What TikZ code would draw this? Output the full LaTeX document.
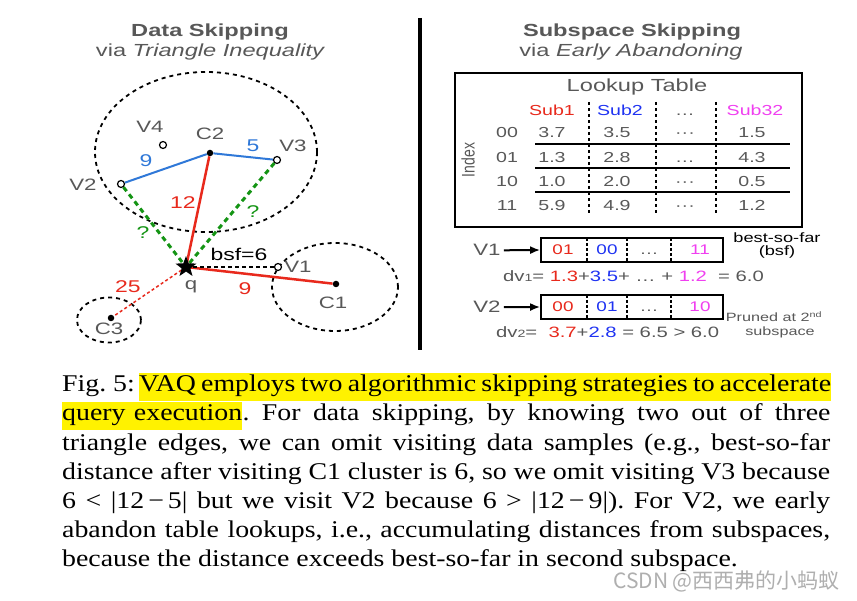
\documentclass[tikz,border=0pt]{standalone}
\usepackage{fontspec}
\setmainfont[FakeStretch=1.16]{Liberation Serif}
\newfontfamily\diagfont[FakeStretch=1.35]{Liberation Sans}
\newfontfamily\diagplain{Liberation Sans}
\newfontfamily\wmfont{Noto Sans CJK SC}
\usetikzlibrary{shapes.geometric}
\usetikzlibrary{arrows.meta}
\newcommand\fsz[1]{\fontsize{#1}{#1}\selectfont}
\frenchspacing
\definecolor{txtgray}{HTML}{585858}
\definecolor{lred}{HTML}{E8291C}
\definecolor{lblue}{HTML}{2F78D8}
\definecolor{tblue}{HTML}{1F33F2}
\definecolor{tpink}{HTML}{F03FF0}
\definecolor{lgreen}{HTML}{149414}
\definecolor{wmgray}{HTML}{AFAFAF}
\tikzset{
  ttl/.style={font=\diagfont\fsz{17.5},text=txtgray,anchor=base,inner sep=0},
  lbl/.style={font=\diagfont\fsz{16.5},text=txtgray,anchor=base,inner sep=0},
  elbl/.style={font=\diagfont\fsz{17},anchor=base,inner sep=0},
  hollow/.style={circle,draw,fill=white,line width=1.2pt,minimum size=7pt,inner sep=0},
  fulldot/.style={circle,fill=black,minimum size=6.5pt,inner sep=0},
  qstar/.style={star,star points=5,star point ratio=2.4,fill=black,minimum size=22pt,inner sep=0},
  clus/.style={ellipse,draw,line width=1.8pt,dash pattern=on 4pt off 4pt,inner sep=0},
  blueedge/.style={lblue,line width=2pt},
  rededge/.style={lred,line width=2.5pt},
  greenedge/.style={lgreen,line width=3pt,dash pattern=on 5pt off 4pt},
  bsfedge/.style={line width=1.8pt,dash pattern=on 4pt off 3pt},
  faredge/.style={lred,line width=1.5pt,dash pattern=on 3pt off 2.5pt},
  tblbox/.style={draw,line width=1.5pt,minimum width=347pt,minimum height=154pt,inner sep=0},
  tval/.style={font=\diagfont\fsz{14.5},text=txtgray,anchor=base,inner sep=0},
  colsep/.style={line width=2.5pt,dash pattern=on 3pt off 3pt},
  rowline/.style={line width=1.2pt},
  vecbox/.style={draw,line width=1.6pt,minimum width=182pt,minimum height=24pt,inner sep=0},
  cellsep/.style={line width=2pt,dash pattern=on 3pt off 2pt},
  cell/.style={font=\diagfont\fsz{14},anchor=base,inner sep=0},
  vecarrow/.style={line width=2pt,-{Latex[length=10pt,width=8pt]},shorten <=3pt},
  note/.style={font=\diagfont\fsz{#1},anchor=base,inner sep=0},
  capline/.style={anchor=base west,inner sep=0,font=\fsz{24}},
  hl/.style={fill=yellow,text height=19pt,text depth=9pt}
}

\begin{document}
\begin{tikzpicture}[x=1pt,y=-1pt]
  \fill[white] (0,0) rectangle (857,601);
  \useasboundingbox (0,0) rectangle (857,601);

  % data skipping
  \node[ttl] (dstitle) at (210,37) {\bfseries Data Skipping};
  \node[ttl] (dssub) at (210,57) {via \itshape Triangle Inequality};

  \node[clus,minimum width=222pt,minimum height=160pt] (clus2) at (206,152) {};
  \node[clus,minimum width=126pt,minimum height=88pt] (clus1) at (335,287) {};
  \node[clus,minimum width=64pt,minimum height=45pt] (clus3) at (109,320) {};

  \node[hollow] (v4) at (163,145) {};
  \node[fulldot] (c2) at (210,153) {};
  \node[hollow] (v3) at (277,160) {};
  \node[hollow] (v2) at (121,184) {};
  \coordinate (qc) at (186,267);
  \node[hollow] (v1) at (278,267) {};
  \node[fulldot] (c1) at (336,284) {};
  \node[fulldot] (c3) at (111,318) {};

  \draw[blueedge] (c2) -- (v2);
  \draw[blueedge] (c2) -- (v3);
  \draw[greenedge] (v2) -- (qc);
  \draw[greenedge] (v3) -- (qc);
  \draw[rededge] (c2) -- (qc);
  \draw[rededge] (qc) -- (c1);
  \draw[bsfedge] (qc) -- (v1);
  \draw[faredge] (qc) -- (c3);
  \node[qstar] (q) at (qc) {};

  \node[lbl] (v4name) at (150,133) {V4};
  \node[lbl] (c2name) at (210,140) {C2};
  \node[lbl] (v3name) at (293,152) {V3};
  \node[lbl] (v2name) at (83,191) {V2};
  \node[lbl] (qname) at (191,290) {q};
  \node[lbl] (v1name) at (298,273) {V1};
  \node[lbl] (c1name) at (333,309) {C1};
  \node[lbl] (c3name) at (109,335) {C3};

  \node[elbl,lblue] (d9) at (146,167) {9};
  \node[elbl,lblue] (d5) at (253,152) {5};
  \node[elbl,lred] (d12) at (183,209) {12};
  \node[elbl,lgreen] (qm2) at (143,239) {?};
  \node[elbl,lgreen] (qm3) at (253,218) {?};
  \node[elbl] (bsf) at (239,261) {bsf=6};
  \node[elbl,lred] (d9r) at (245,295) {9};
  \node[elbl,lred] (d25) at (128,293) {25};

  \draw[line width=4pt] (420,18) -- (420,350);

  % subspace skipping
  \node[ttl] (sstitle) at (632,37) {\bfseries Subspace Skipping};
  \node[ttl] (sssub) at (631,57) {via \itshape Early Abandoning};

  \node[tblbox] (lut) at (628.5,150) {};
  \node[tval,font=\diagfont\fsz{17.5}] (luthead) at (637,92) {Lookup Table};
  \node[tval,text=lred] (sub1) at (552,116) {Sub1};
  \node[tval,text=tblue] (sub2) at (620,116) {Sub2};
  \node[tval] (subdots) at (685,116) {…};
  \node[tval,text=tpink] (sub32) at (755,116) {Sub32};
  \node[rotate=90,text=txtgray,font=\diagplain\fsz{14},inner sep=0] (index) at (468,160) {\scalebox{1}[1.3]{Index}};
  \foreach \idx/\a/\b/\c/\d [count=\r from 0] in {00/3.7/3.5/···/1.5, 01/1.3/2.8/…/4.3, 10/1.0/2.0/···/0.5, 11/5.9/4.9/···/1.2}{
    \pgfmathsetmacro\yb{138+24.33*\r}
    \node[tval] (idx\r) at (507,\yb) {\idx};
    \node[tval] (va\r) at (552,\yb) {\a};
    \node[tval] (vb\r) at (617,\yb) {\b};
    \node[tval] (vc\r) at (685,\yb) {\c};
    \node[tval] (vd\r) at (752,\yb) {\d};
  }
  \foreach \x in {589,656,716} \draw[colsep] (\x,102) -- (\x,215);
  \foreach \y in {144,168,192} \draw[rowline] (535,\y) -- (790,\y);

  % vectors
  \node[vecbox] (bx1) at (632,250) {};
  \node[vecbox] (bx2) at (632,307) {};
  \foreach \x in {587,627,671}{
    \draw[cellsep] (\x,238) -- (\x,262);
    \draw[cellsep] (\x,295) -- (\x,319);
  }
  \node[cell,lred] (b1a) at (563,255) {01};
  \node[cell,tblue] (b1b) at (607,255) {00};
  \node[cell,txtgray] (b1c) at (649,255) {…};
  \node[cell,tpink] (b1d) at (700,255) {11};
  \node[cell,lred] (b2a) at (563,312) {00};
  \node[cell,tblue] (b2b) at (607,312) {01};
  \node[cell,txtgray] (b2c) at (649,312) {…};
  \node[cell,tpink] (b2d) at (700,312) {10};

  \node[lbl] (vec1) at (487,256) {V1};
  \node[lbl] (vec2) at (487,313) {V2};
  \draw[vecarrow] (vec1.east) -- (bx1.west);
  \draw[vecarrow] (vec2.east) -- (bx2.west);

  \node[note=13.5] (bsfa) at (777,243) {best-so-far};
  \node[note=13.5] (bsfb) at (777,256) {(bsf)};
  \node[note=12,text=txtgray] (pruna) at (774,322) {Pruned at 2\textsuperscript{nd}};
  \node[note=12,text=txtgray] (prunb) at (780,336) {subspace};

  \node[note=15,text=txtgray,anchor=base west] (dv1) at (503,282)
    {dv{\fsz{10.5}1}=\ \textcolor{lred}{1.3}+\textcolor{tblue}{3.5}+ … + \textcolor{tpink}{1.2}\ \ = 6.0};
  \node[note=15,text=txtgray,anchor=base west] (dv2) at (496,338)
    {dv{\fsz{10.5}2}=\ \ \textcolor{lred}{3.7}+\textcolor{tblue}{2.8} = 6.5 > 6.0};

  % caption
  \node[capline] (cap1a) at (62,392) {Fig. 5:};
  \node[capline,hl] (cap1b) at (139,392) {\makebox[692pt][s]{VAQ employs two algorithmic skipping strategies to accelerate}};
  \node[capline,hl] (cap2a) at (62,421) {\makebox[180pt][s]{query execution}};
  \node[capline] (cap2b) at (cap2a.base east) {\makebox[588pt][s]{. For data skipping, by knowing two out of three}};
  \node[capline] (cap3) at (62,450) {\makebox[768pt][s]{triangle edges, we can omit visiting data samples (e.g., best-so-far}};
  \node[capline] (cap4) at (62,479) {\makebox[768pt][s]{distance after visiting C1 cluster is 6, so we omit visiting V3 because}};
  \node[capline] (cap5) at (62,508) {\makebox[768pt][s]{6 < |12\,−\,5| but we visit V2 because 6 > |12\,−\,9|). For V2, we early}};
  \node[capline] (cap6) at (62,537) {\makebox[768pt][s]{abandon table lookups, i.e., accumulating distances from subspaces,}};
  \node[capline] (cap7) at (62,566) {because the distance exceeds best-so-far in second subspace.};

  \node[anchor=base east,inner sep=0,text=wmgray,font=\wmfont\fsz{21}] (wm) at (840,588) {CSDN @西西弗的小蚂蚁};
\end{tikzpicture}
\end{document}
